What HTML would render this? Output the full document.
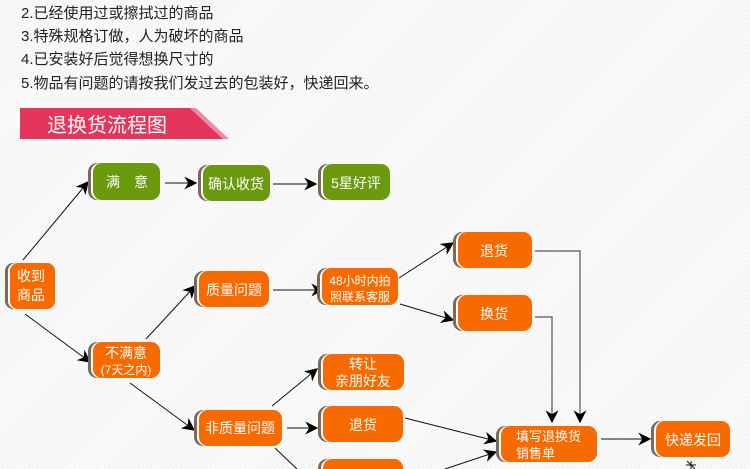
<!DOCTYPE html>
<html><head><meta charset="utf-8"><style>
html,body{margin:0;padding:0;width:750px;height:469px;overflow:hidden;}
body{background:repeating-linear-gradient(135deg,#f1f1f1 0px,#f1f1f1 1px,#fbfbfb 1px,#fbfbfb 3px);font-family:"Liberation Sans","Noto Sans CJK SC",sans-serif;}
svg{position:absolute;left:0;top:0}
</style></head><body>
<svg width="750" height="469" viewBox="0 0 750 469" xmlns="http://www.w3.org/2000/svg">
<defs>
<marker id="a" viewBox="0 0 10 10" refX="9" refY="5" markerWidth="13" markerHeight="13" orient="auto" markerUnits="userSpaceOnUse"><path d="M0,0 L10,5 L0,10 L3,5 z" fill="#000"/></marker>
</defs>
<g font-family="Liberation Sans, Noto Sans CJK SC, sans-serif" font-size="15" fill="#222">
<text x="21" y="18">2.已经使用过或擦拭过的商品</text>
<text x="21" y="41">3.特殊规格订做，人为破坏的商品</text>
<text x="21" y="64">4.已安装好后觉得想换尺寸的</text>
<text x="21" y="88">5.物品有问题的请按我们发过去的包装好，快递回来。</text>
</g>
<polygon points="20,108 190,108 223,139 20,139" fill="#e5355a"/>
<polygon points="190,108 196,108 229,139 223,139" fill="#f08aa0"/>
<text x="47" y="132" font-size="20" fill="#fff" font-family="Liberation Sans, Noto Sans CJK SC, sans-serif">退换货流程图</text>

<g stroke="#111" stroke-width="1" fill="none" marker-end="url(#a)">
<line x1="23" y1="260" x2="88" y2="182"/>
<line x1="25" y1="314" x2="90" y2="362"/>
<line x1="165" y1="183" x2="196" y2="183"/>
<line x1="273" y1="184" x2="316" y2="184"/>
<line x1="146" y1="339" x2="195" y2="286"/>
<line x1="130" y1="383" x2="194" y2="430"/>
<line x1="273" y1="290" x2="323" y2="290"/>
<line x1="399" y1="278" x2="453" y2="243"/>
<line x1="400" y1="304" x2="453" y2="320"/>
<line x1="272" y1="406" x2="317" y2="369"/>
<line x1="287" y1="428" x2="317" y2="428"/>
<line x1="405" y1="418" x2="496" y2="441"/>
<line x1="445" y1="469" x2="496" y2="452"/>
<polyline points="535,251 580,251 580,422" stroke="#333"/>
<polyline points="535,317 552,317 552,422" stroke="#333"/>
<line x1="601" y1="439" x2="650" y2="439"/>
</g>
<line x1="275" y1="448" x2="297" y2="469" stroke="#111"/>
<g stroke="#111"><line x1="691" y1="461" x2="691" y2="469"/><line x1="686" y1="465" x2="696" y2="465"/><line x1="687" y1="461" x2="695" y2="469"/></g>

<g font-family="Liberation Sans, Noto Sans CJK SC, sans-serif" font-size="14" fill="#fff" text-anchor="middle">
<g><rect x="88" y="163" width="72" height="37" rx="9" fill="#7a6a5a"/><rect x="91" y="163" width="69" height="37" rx="9" fill="#fff"/><rect x="93" y="163" width="67" height="37" rx="9" fill="#6b9a0e"/><text x="127" y="187">满　意</text></g>
<g><rect x="198" y="165" width="72" height="36" rx="9" fill="#7a6a5a"/><rect x="201" y="165" width="69" height="36" rx="9" fill="#fff"/><rect x="203" y="165" width="67" height="36" rx="9" fill="#6b9a0e"/><text x="236" y="189">确认收货</text></g>
<g><rect x="318" y="164" width="72" height="36" rx="9" fill="#7a6a5a"/><rect x="321" y="164" width="69" height="36" rx="9" fill="#fff"/><rect x="323" y="164" width="67" height="36" rx="9" fill="#6b9a0e"/><text x="356" y="188">5星好评</text></g>
<g><rect x="5" y="263" width="50" height="46" rx="8" fill="#7a6a5a"/><rect x="8" y="263" width="47" height="46" rx="8" fill="#fff"/><rect x="10" y="263" width="45" height="46" rx="8" fill="#f66a00"/><text x="31" y="281">收到</text><text x="31" y="300">商品</text></g>
<g><rect x="88" y="342" width="72" height="36" rx="9" fill="#7a6a5a"/><rect x="91" y="342" width="69" height="36" rx="9" fill="#fff"/><rect x="93" y="342" width="67" height="36" rx="9" fill="#f66a00"/><text x="126" y="358">不满意</text><text x="126" y="374" font-size="12">(7天之内)</text></g>
<g><rect x="194" y="271" width="75" height="36" rx="9" fill="#7a6a5a"/><rect x="197" y="271" width="72" height="36" rx="9" fill="#fff"/><rect x="199" y="271" width="70" height="36" rx="9" fill="#f66a00"/><text x="234" y="295">质量问题</text></g>
<g><rect x="317" y="268" width="81" height="37" rx="9" fill="#7a6a5a"/><rect x="320" y="268" width="78" height="37" rx="9" fill="#fff"/><rect x="322" y="268" width="76" height="37" rx="9" fill="#f66a00"/><text x="360" y="285" font-size="12">48小时内拍</text><text x="360" y="301" font-size="12">照联系客服</text></g>
<g><rect x="453" y="232" width="79" height="36" rx="9" fill="#7a6a5a"/><rect x="456" y="232" width="76" height="36" rx="9" fill="#fff"/><rect x="458" y="232" width="74" height="36" rx="9" fill="#f66a00"/><text x="494" y="256">退货</text></g>
<g><rect x="453" y="295" width="79" height="36" rx="9" fill="#7a6a5a"/><rect x="456" y="295" width="76" height="36" rx="9" fill="#fff"/><rect x="458" y="295" width="74" height="36" rx="9" fill="#f66a00"/><text x="494" y="319">换货</text></g>
<g><rect x="318" y="354" width="86" height="36" rx="9" fill="#7a6a5a"/><rect x="321" y="354" width="83" height="36" rx="9" fill="#fff"/><rect x="323" y="354" width="81" height="36" rx="9" fill="#f66a00"/><text x="363" y="369">转让</text><text x="363" y="386">亲朋好友</text></g>
<g><rect x="194" y="410" width="88" height="36" rx="9" fill="#7a6a5a"/><rect x="197" y="410" width="85" height="36" rx="9" fill="#fff"/><rect x="199" y="410" width="83" height="36" rx="9" fill="#f66a00"/><text x="240" y="433">非质量问题</text></g>
<g><rect x="318" y="406" width="85" height="36" rx="9" fill="#7a6a5a"/><rect x="321" y="406" width="82" height="36" rx="9" fill="#fff"/><rect x="323" y="406" width="80" height="36" rx="9" fill="#f66a00"/><text x="363" y="430">退货</text></g>
<g><rect x="318" y="459" width="85" height="30" rx="9" fill="#7a6a5a"/><rect x="321" y="459" width="82" height="30" rx="9" fill="#fff"/><rect x="323" y="459" width="80" height="30" rx="9" fill="#f66a00"/></g>
<g><rect x="496" y="426" width="101" height="36" rx="9" fill="#7a6a5a"/><rect x="499" y="426" width="98" height="36" rx="9" fill="#fff"/><rect x="501" y="426" width="96" height="36" rx="9" fill="#f66a00"/><text x="516" y="441" text-anchor="start" font-size="13">填写退换货</text><text x="516" y="458" text-anchor="start" font-size="13">销售单</text></g>
<g><rect x="651" y="421" width="79" height="36" rx="9" fill="#7a6a5a"/><rect x="654" y="421" width="76" height="36" rx="9" fill="#fff"/><rect x="656" y="421" width="74" height="36" rx="9" fill="#f66a00"/><text x="693" y="445">快递发回</text></g>
</g>
</svg>
</body></html>
